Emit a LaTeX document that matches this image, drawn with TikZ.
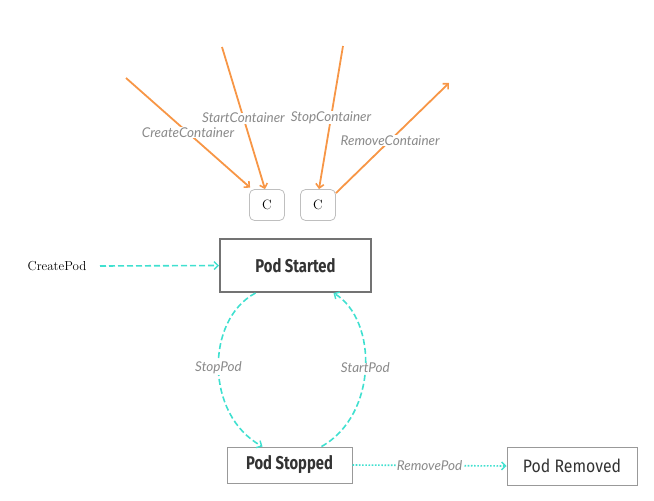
\documentclass[tikz,border=0pt]{standalone}
\usepackage{fontspec}
\setmainfont{Latin Modern Roman}
\newfontfamily\boxfont{Fira Sans}
\newfontfamily\lblfont{Lato}
\usetikzlibrary{arrows.meta,calc}
\definecolor{orng}{HTML}{F79646}
\definecolor{cyn}{HTML}{40E0D0}
\definecolor{lblgray}{HTML}{8A8A8A}
\tikzset{
  orarrow/.style={draw=orng,line width=1.8pt,-{Straight Barb[length=4pt,width=8pt,line width=1.6pt]}},
  cyarrow/.style={draw=cyn,line width=1.6pt,-{Straight Barb[length=4pt,width=8pt,line width=1.4pt]}},
  cydash/.style={cyarrow,dash pattern=on 6pt off 3pt},
  cydot/.style={cyarrow,dash pattern=on 1.6pt off 1.6pt},
  lbl/.style={font=\lblfont\itshape\fontsize{13.5}{14}\selectfont,text=lblgray,fill=white,inner sep=0.5pt},
  cbox/.style={draw=black!25,line width=0.8pt,rounded corners=5pt,minimum width=35pt,minimum height=31pt,inner sep=0pt,font=\fontsize{13.5}{14}\selectfont},
  boldbox/.style={draw,inner sep=0pt,font=\boxfont\bfseries\fontsize{18.5}{20}\selectfont,text=black!80},
}
\begin{document}
\begin{tikzpicture}[x=1pt,y=-1pt]
\useasboundingbox (0,0) rectangle (654,501);
% nodes
\node[boldbox,draw=black!55,line width=2pt,minimum width=151pt,minimum height=53pt] (ps) at (295.5,265.5) {\scalebox{0.8}[1]{Pod Started}};
\node[boldbox,draw=black!40,line width=1pt,minimum width=125pt,minimum height=36pt] (pst) at (289.5,465) {\scalebox{0.8}[1]{Pod Stopped}};
\node[draw=black!40,line width=1pt,minimum width=130pt,minimum height=38pt,inner sep=0pt,font=\boxfont\fontsize{18}{20}\selectfont,text=black!80] (prm) at (572,466) {\scalebox{0.88}[1]{Pod Removed}};
\node[cbox] (c1) at (267,205) {C};
\node[cbox] (c2) at (318,205) {C};
\node[font=\fontsize{13}{14}\selectfont] (cp) at (57,266) {CreatePod};
% free ends
\coordinate (a1) at (126,78);
\coordinate (a2) at (222,47);
\coordinate (a3) at (343,46);
\coordinate (a4) at (449,83);
% orange arrows
\draw[orarrow] (a1) -- node[lbl,pos=0.5]{CreateContainer} ([xshift=1pt,yshift=1.5pt]c1.north west);
\draw[orarrow] (a2) -- node[lbl,pos=0.5]{StartContainer} ([xshift=-2pt]c1.north);
\draw[orarrow] (a3) -- node[lbl,pos=0.5]{StopContainer} ([xshift=1pt]c2.north);
\draw[orarrow] ([yshift=-4pt]c2.north east) -- node[lbl,pos=0.48]{RemoveContainer} (a4);
% cyan arrows
\coordinate (cpe) at (100,266);
\draw[cydash] (cpe) -- (ps.west);
\draw[cydash] ([xshift=-40pt]ps.south) .. controls (205,320) and (205,415) .. node[lbl,pos=0.5]{StopPod} ([xshift=-27pt]pst.north);
\draw[cydash] ([xshift=32pt]pst.north) .. controls (378,415) and (378,320) .. node[lbl,pos=0.5]{StartPod} ([xshift=38pt]ps.south);
\draw[cydot] (pst.east) -- node[lbl,pos=0.5]{RemovePod} (prm.west);
\end{tikzpicture}
\end{document}
